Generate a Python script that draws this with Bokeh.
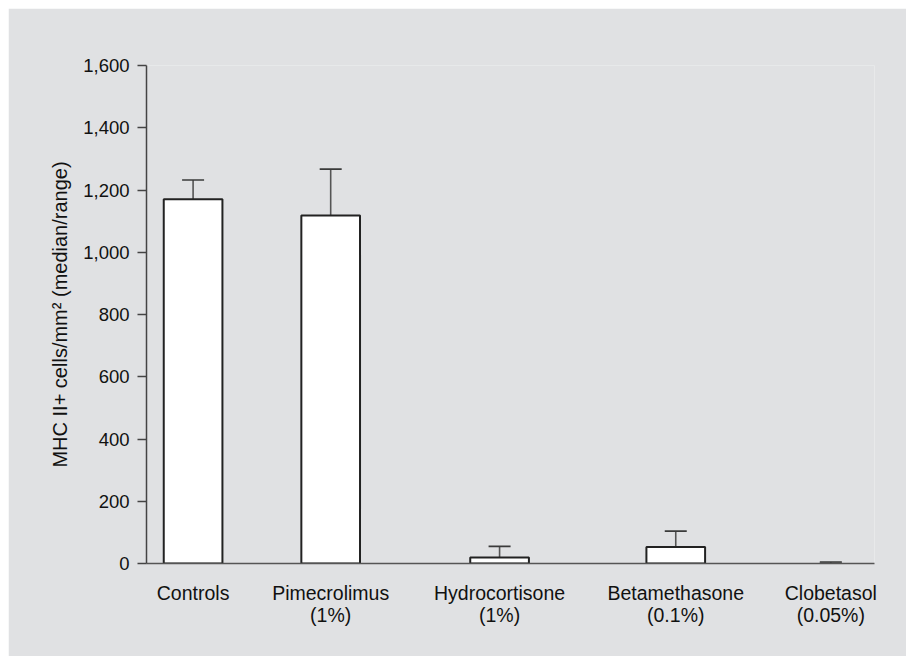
from bokeh.plotting import figure
from bokeh.models import Range1d, FixedTicker, NumeralTickFormatter, Whisker, TeeHead, ColumnDataSource
from bokeh.embed import file_html
from bokeh.resources import INLINE

# ---- data ----
categories = ["Controls", "Pimecrolimus\n(1%)", "Hydrocortisone\n(1%)", "Betamethasone\n(0.1%)", "Clobetasol\n(0.05%)"]
median = [1170, 1118, 19, 53, 0]
range_low = [1063, 1014, 8, 32, 0]
range_high = [1232, 1267, 55, 104, 5]
y_ticks = [0, 200, 400, 600, 800, 1000, 1200, 1400, 1600]

# ---- layout (category slot positions on a 0..10 axis) ----
x_pos = [0.64, 2.53, 4.85, 7.27, 9.40]
bar_width = 0.806

BG = "#e0e1e3"
FONT = "Liberation Sans"

p = figure(width=898, height=648, output_backend="svg", toolbar_location=None,
           x_range=Range1d(0, 10), y_range=Range1d(0, 1600),
           min_border_left=138, min_border_right=32, min_border_top=57, min_border_bottom=93)
p.margin = (8, 0, 0, 8)
p.background_fill_color = BG
p.border_fill_color = BG
p.outline_line_color = None
p.grid.visible = False

# a zero-height bar shows no outline
bar_line_alpha = [1.0 if m > 0 else 0.0 for m in median]
src = ColumnDataSource(dict(x=x_pos, med=median, lo=range_low, hi=range_high, la=bar_line_alpha))

# whiskers
w = Whisker(source=src, base="x", lower="lo", upper="hi", dimension="height",
            line_color="#555555", line_width=1.6,
            lower_head=TeeHead(size=22, line_color="#2a2a2a", line_width=1.8),
            upper_head=TeeHead(size=22, line_color="#3a3a3a", line_width=1.6))

p.vbar(x="x", top="med", bottom=0, width=bar_width, source=src,
       fill_color="white", line_color="#222222", line_width=2, line_alpha="la")
p.add_layout(w)

# y axis
ya = p.yaxis[0]
ya.ticker = FixedTicker(ticks=y_ticks)
ya.formatter = NumeralTickFormatter(format="0,0")
ya.minor_tick_line_color = None
ya.major_tick_in = 0
ya.major_tick_out = 9
ya.major_tick_line_color = "#444444"
ya.major_tick_line_width = 1.5
ya.axis_line_color = "#444444"
ya.axis_line_width = 1.5
ya.major_label_text_font = FONT
ya.major_label_text_font_size = "18.5px"
ya.major_label_text_color = "#111111"
ya.major_label_standoff = 8
ya.axis_label = "MHC II+ cells/mm² (median/range)"
ya.axis_label_text_font = FONT
ya.axis_label_text_font_size = "20px"
ya.axis_label_text_font_style = "normal"
ya.axis_label_text_color = "#111111"
ya.axis_label_standoff = 9

# x axis
xa = p.xaxis[0]
xa.ticker = FixedTicker(ticks=x_pos)
xa.major_label_overrides = {x: c for x, c in zip(x_pos, categories)}
xa.major_tick_in = 0
xa.major_tick_out = 0
xa.minor_tick_line_color = None
xa.axis_line_color = "#555555"
xa.axis_line_width = 1.5
xa.major_label_text_font = FONT
xa.major_label_text_font_size = "19.5px"
xa.major_label_text_line_height = 1.0
xa.major_label_text_color = "#111111"
xa.major_label_standoff = 18

open("out.html", "w").write(file_html(p, INLINE))
